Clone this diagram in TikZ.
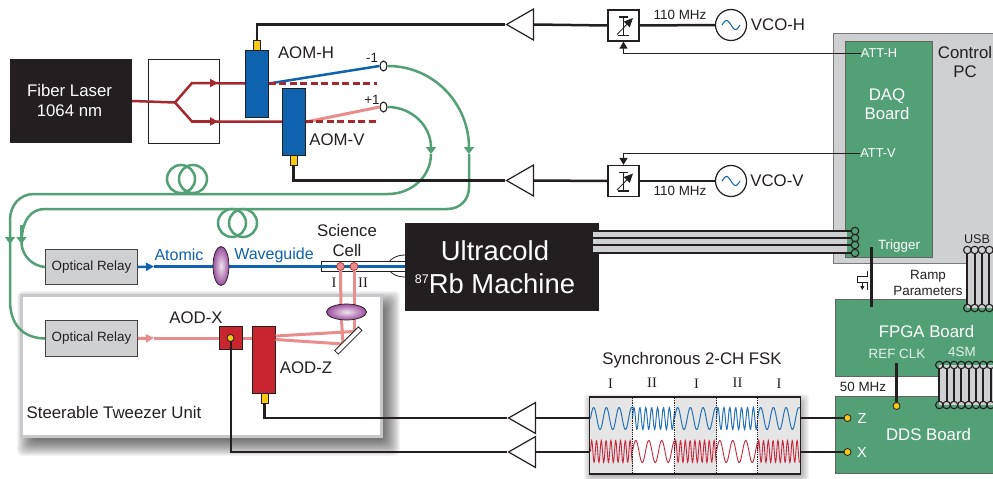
\documentclass[tikz,border=0pt]{standalone}
\usepackage{fontspec}
\setmainfont{Liberation Sans}
\newfontfamily\romfont{Liberation Serif}
\usetikzlibrary{shapes.geometric, arrows.meta}
\definecolor{ink}{HTML}{231F20}
\definecolor{bluebeam}{HTML}{0F62AE}
\definecolor{redbeam}{HTML}{A5282E}
\definecolor{pinkbeam}{HTML}{E88D8B}
\definecolor{fibergreen}{HTML}{53A077}
\definecolor{panelgray}{HTML}{CFD0D2}
\definecolor{portyellow}{HTML}{F6C915}
\definecolor{aodred}{HTML}{C9252F}
\definecolor{wavered}{HTML}{C8283C}
\definecolor{lenspurple}{HTML}{9A4F9C}

\begin{document}
\begin{tikzpicture}[x=1pt,y=-1pt,
		biglbl/.style={font=\fontsize{16.8}{19.5}\selectfont, text=ink, inner sep=0pt, align=center},
		midlbl/.style={font=\fontsize{13.4}{16}\selectfont, text=ink, inner sep=0pt, align=center},
		whitebig/.style={biglbl, text=white},
		whitemid/.style={midlbl, text=white},
		romlbl/.style={font=\romfont\fontsize{14.5}{16}\selectfont, text=ink, inner sep=0pt},
		darkbox/.style={rectangle, fill=ink, inner sep=0pt},
		aomblock/.style={rectangle, draw=ink, line width=0.8pt, fill=bluebeam, minimum width=23pt, inner sep=0pt},
		aodblock/.style={aomblock, fill=aodred},
		connector/.style={rectangle, draw=ink, line width=0.7pt, fill=portyellow, minimum width=7pt, minimum height=10pt, inner sep=0pt},
		relay/.style={rectangle, draw=ink!85, line width=0.8pt, fill=panelgray, minimum width=92pt, minimum height=35.5pt, inner sep=0pt, midlbl},
		board/.style={rectangle, draw=ink!70, line width=0.9pt, fill=fibergreen, inner sep=0pt},
		amp/.style={isosceles triangle, isosceles triangle stretches, shape border rotate=180, draw=ink, line width=1.2pt, fill=white, minimum width=31pt, minimum height=27pt, inner sep=0pt, anchor=apex},
		attbox/.style={rectangle, draw=ink, line width=1.2pt, fill=white, minimum size=31pt, inner sep=0pt},
		vco/.style={circle, draw=ink, line width=1.2pt, fill=white, minimum size=31pt, inner sep=0pt},
		aperture/.style={ellipse, draw=ink, line width=1.1pt, fill=white, minimum width=7pt, minimum height=10pt, inner sep=0pt},
		yellowdot/.style={circle, draw=ink, line width=0.8pt, fill=portyellow, minimum size=7pt, inner sep=0pt},
		ring/.style={circle, draw=ink, line width=1.1pt, minimum size=7.5pt, inner sep=0pt},
		pinkdot/.style={circle, draw=redbeam, line width=0.7pt, fill=pinkbeam, minimum size=8pt, inner sep=0pt},
		lens/.style={ellipse, draw=ink, line width=0.7pt, inner color=white!85!lenspurple, outer color=lenspurple, inner sep=0pt},
		wire/.style={draw=ink, line width=2.5pt},
		thinwire/.style={draw=ink, line width=1.2pt},
		redray/.style={draw=redbeam, line width=2.5pt},
		blueray/.style={draw=bluebeam, line width=2.5pt},
		pinkray/.style={draw=pinkbeam, line width=3pt},
		fiber/.style={draw=fibergreen, line width=2.5pt},
		fibertip/.style={-{Triangle[length=7pt,width=10pt]}},
		raytip/.style={-{Triangle[length=8pt,width=8pt]}}
	]
	\useasboundingbox (0,0) rectangle (993,479);

	\node (pc) [rectangle, draw=ink!60, line width=0.9pt, fill=panelgray, minimum width=170pt, minimum height=230pt, inner sep=0pt] at (918,148) {};
	\node (daq) [board, minimum width=87pt, minimum height=216pt] at (888.5,149) {};
	\node (pctxt) [biglbl] at (965,62) {Control\\PC};
	\node (daqtxt) [whitebig] at (887,104) {DAQ\\Board};
	\node (fpga) [board, minimum width=160pt, minimum height=77pt] at (915,337.5) {};
	\node (dds) [board, minimum width=160pt, minimum height=77pt] at (915,435) {};
	\node (fpgatxt) [whitebig] at (926.5,331) {FPGA Board};
	\node (ddstxt) [whitebig] at (928.5,434) {DDS Board};
	\node (reftxt) [whitemid, text=white!85!fibergreen] at (897,354) {REF CLK};
	\node (smtxt) [whitemid, text=white!85!fibergreen] at (962,352) {4SM};
	\node (clktxt) [midlbl] at (863,387) {50 MHz};
	\node (usbtxt) [midlbl, font=\fontsize{12.6}{15}\selectfont] at (977,239) {USB};
	\node (ramptxt) [midlbl] at (928,282.5) {Ramp\\Parameters};
	\node (trigtxt) [whitemid] at (899,246) {Trigger};
	\node (tatth) [whitemid, font=\fontsize{12.8}{15}\selectfont] at (879,53.5) {ATT-H};
	\node (tattv) [whitemid, font=\fontsize{12.8}{15}\selectfont] at (878,153.5) {ATT-V};

	\node (laser) [darkbox, minimum width=122pt, minimum height=83.5pt] at (71,101) {};
	\node (lasertxt) [whitebig] at (69.5,100.5) {Fiber Laser\\1064 nm};
	\node (split) [rectangle, draw=ink, line width=0.9pt, minimum width=71pt, minimum height=84pt] at (183.5,101) {};
	\coordinate (fork) at (175,102.5);
	\coordinate (forkh) at (192,83);
	\coordinate (forkv) at (192,121.5);
	\coordinate (tiph) at (218,83);
	\coordinate (tipv) at (218,121.5);
	\coordinate (dumph) at (377,83.5);
	\coordinate (dumpv) at (379,121.5);

	\node (aomh) [aomblock, minimum height=67pt] at (257,83.5) {};
	\node (aomv) [aomblock, minimum height=67pt] at (294,122) {};
	\node (conh) [connector] at (257,45) {};
	\node (conv) [connector] at (293.5,160.5) {};
	\node (aomhtxt) [biglbl] at (306,53) {AOM-H};
	\node (aomvtxt) [biglbl] at (337,140) {AOM-V};
	\node (outh) [aperture] at (383.5,66) {};
	\node (outv) [aperture] at (383.5,107) {};
	\node (minus) [midlbl] at (372,58) {-1};
	\node (plus) [midlbl] at (372,100) {+1};

	\draw[redray] (laser.east) -- (fork) -- (forkh) -- (aomh.west);
	\draw[redray] (fork) -- (forkv) -- (aomv.west |- forkv);
	\draw[redray, raytip] (forkh) -- (tiph);
	\draw[redray, raytip] (forkv) -- (tipv);
	\draw[blueray] (aomh.east) -- (outh.west);
	\draw[pinkray] (aomv.east) -- (outv.west);
	\draw[redray, dash pattern=on 7pt off 3.5pt] (aomh.east) -- (dumph);
	\draw[redray, dash pattern=on 7pt off 3.5pt] (aomv.east |- dumpv) -- (dumpv);

	\foreach \d in {9,8,...,-7} {
		\fill[black, opacity=0.045, rounded corners=5pt] (26-\d,300-\d) rectangle (391+\d,447+\d);
	}
	\node (unit) [rectangle, draw=panelgray!90!gray, line width=3pt, fill=white, minimum width=360pt, minimum height=140.5pt, inner sep=0pt] at (201,365.75) {};
	\node (unittxt) [biglbl] at (114,412) {Steerable Tweezer Unit};
	\node (relaya) [relay] at (91.5,267) {Optical Relay};
	\node (relayb) [relay] at (91.5,338.5) {Optical Relay};

	\coordinate (hb) at (469,154);
	\coordinate (hc) at (447,209);
	\coordinate (hd) at (45,209);
	\coordinate (he) at (21.5,244);
	\coordinate (vb) at (431,154);
	\coordinate (vc) at (388,194);
	\coordinate (vd) at (34,194);
	\coordinate (ve) at (10,244);
	\draw[fiber, fibertip] (outh.east) .. controls (435,66) and (469,105) .. (hb);
	\draw[fiber] (hb) -- (469,187) .. controls (469,200) and (460,209) .. (hc) -- (hd) .. controls (31,209) and (21.5,220) .. (he);
	\draw[fiber, fibertip] (21.5,225) -- (he);
	\draw[fiber] (he) .. controls (23,257) and (33,266) .. (relaya.west);
	\draw[fiber, fibertip] (outv.east) .. controls (412,107) and (431,126) .. (vb);
	\draw[fiber] (vb) .. controls (431,176) and (412,194) .. (vc) -- (vd) .. controls (20,194) and (10,205) .. (10,220) -- (ve);
	\draw[fiber, fibertip] (10,225) -- (ve);
	\draw[fiber] (ve) -- (10,300) .. controls (10,324) and (22,338) .. (relayb.west);

	\node (loopaa) [circle, draw=fibergreen, line width=2.5pt, minimum size=28pt, inner sep=0pt] at (181,179) {};
	\node (loopab) [circle, draw=fibergreen, line width=2.5pt, minimum size=28pt, inner sep=0pt] at (193,179) {};
	\node (loopba) [circle, draw=fibergreen, line width=2.5pt, minimum size=28pt, inner sep=0pt] at (232,223) {};
	\node (loopbb) [circle, draw=fibergreen, line width=2.5pt, minimum size=28pt, inner sep=0pt] at (243,223) {};

	\node (chamber) [ellipse, draw=ink, line width=0.8pt, minimum width=34pt, minimum height=22pt, inner sep=0pt] at (405,266) {};
	\node (cell) [rectangle, draw=ink, line width=0.8pt, fill=white, minimum width=84pt, minimum height=9.5pt, inner sep=0pt] at (363,266.5) {};
	\coordinate (tipa) at (154,266.5);
	\coordinate (macha) at (405,266.5);
	\draw[blueray, raytip, line width=2.5pt] (relaya.east) -- (tipa);
	\draw[blueray] (tipa) -- (macha);
	\node (lensa) [lens, minimum width=16pt, minimum height=39pt] at (221,266) {};
	\node (atomtxt) [biglbl, text=bluebeam, font=\fontsize{16}{19}\selectfont] at (179,255) {Atomic};
	\node (wavetxt) [biglbl, text=bluebeam, font=\fontsize{16}{19}\selectfont] at (274,255) {Waveguide};
	\node (celltxt) [biglbl] at (347,240.5) {Science\\Cell};
	\node (trapa) [pinkdot] at (340.5,266.5) {};
	\node (trapb) [pinkdot] at (354,266.5) {};
	\node (trapatxt) [romlbl] at (334,282.5) {I};
	\node (trapbtxt) [romlbl] at (363,282.5) {II};

	\node (machine) [darkbox, minimum width=194pt, minimum height=88pt] at (501.5,267) {};
	\node (machatxt) [whitebig, font=\fontsize{27.4}{32}\selectfont] at (495,251) {Ultracold};
	\node (machbtxt) [whitebig, font=\fontsize{27.4}{32}\selectfont] at (495,284) {\raisebox{10pt}{\fontsize{12.5}{14}\selectfont 87}Rb Machine};

	\node (aodz) [aodblock, minimum height=67pt] at (264,360) {};
	\node (aodx) [aodblock, minimum height=23pt] at (231,338) {};
	\node (conz) [connector] at (264.5,398) {};
	\node (aodxtxt) [biglbl] at (196,318) {AOD-X};
	\node (aodztxt) [biglbl] at (306,368) {AOD-Z};
	\coordinate (tipb) at (154,338);
	\coordinate (mirra) at (343,344);
	\coordinate (mirrb) at (354,331.5);
	\coordinate (fana) at (275.5,336);
	\coordinate (fanb) at (275.5,339.5);
	\draw[pinkray, raytip] (relayb.east) -- (tipb);
	\draw[pinkray] (tipb) -- (aodx.west);
	\draw[pinkray] (aodx.east) -- (aodz.west |- aodx.east);
	\draw[pinkray] (fana) -- (mirrb);
	\draw[pinkray] (fanb) -- (mirra);
	\draw[pinkray] (trapa.south) -- (341,312) -- (mirra);
	\draw[pinkray] (trapb.south) -- (mirrb);
	\node (lensb) [lens, minimum width=40pt, minimum height=16pt] at (346.5,312) {};
	\node (mirror) [rectangle, draw=ink, line width=0.8pt, fill=white, minimum width=33.5pt, minimum height=5pt, inner sep=0pt, rotate=45] at (348.3,340.5) {};

	\node (amph) [amp] at (505,24.5) {};
	\node (ampv) [amp] at (505,180.5) {};
	\node (ampz) [amp] at (507,418) {};
	\node (ampx) [amp] at (507,452) {};
	\node (atth) [attbox] at (623.5,25.5) {};
	\node (attv) [attbox] at (623.5,181) {};
	\node (vcoh) [vco] at (731,25) {};
	\node (vcov) [vco] at (731,181) {};
	\node (vcohtxt) [biglbl] at (778,24.5) {VCO-H};
	\node (vcovtxt) [biglbl] at (777,180.5) {VCO-V};
	\node (freqh) [midlbl] at (680,15) {110 MHz};
	\node (freqv) [midlbl] at (680,191) {110 MHz};
	\foreach \n in {atth,attv} {
		\draw[ink, line width=1.1pt] ([shift={(-4.5pt,8.5pt)}]\n.center) -- ([shift={(4.5pt,8.5pt)}]\n.center);
		\draw[ink, line width=1.1pt] ([shift={(-5.5pt,-10pt)}]\n.center) -- ([shift={(5.5pt,-10pt)}]\n.center);
		\draw[ink, line width=1.1pt] ([yshift=8.5pt]\n.center) -- ([yshift=-10pt]\n.center);
		\draw[ink, line width=0.8pt, -{Triangle[length=9pt,width=8pt]}] ([shift={(-6.5pt,-9pt)}]\n.center) -- ([shift={(9.5pt,7.5pt)}]\n.center);
	}
	\foreach \n in {vcoh,vcov} {
		\draw[bluebeam, line width=1pt, shift={(\n.center)}] plot[domain=-9:9, samples=40] (\x,{4.5*sin(20*\x)});
	}
	\draw[wire] (conh.north) |- (amph.apex);
	\draw[wire] (conv.south) |- (ampv.apex);
	\draw[wire] (amph.lower side) -- (atth.west);
	\draw[wire] (ampv.lower side) -- (attv.west);
	\draw[wire] (atth.east) -- (vcoh.west);
	\draw[wire] (attv.east) -- (vcov.west);
	\draw[thinwire, -{Triangle[length=7pt,width=8pt]}] (tatth.west) -| (atth.south);
	\draw[thinwire, -{Triangle[length=7pt,width=8pt]}] (tattv.west) -| (attv.north);
	\draw[wire] (conz.south) |- (ampz.apex);
	\draw[wire] (aodx.center) |- (ampx.apex);
	\node (dotx) [yellowdot] at (230.5,338) {};

	\fill[panelgray] (593,231) rectangle (847,253);
	\foreach \y in {231,238,245,253} {
		\coordinate (busl\y) at (593,\y);
		\node (busr\y) [ring] at (855,\y) {};
		\draw[ink, line width=2pt] (busl\y) -- (busr\y.west);
	}
	\fill[panelgray] (967,250) rectangle (993,308);
	\foreach \x [count=\i] in {967.3,974.7,982,989.3} {
		\node (usba\i) [ring] at (\x,250) {};
		\node (usbb\i) [ring] at (\x,308) {};
		\draw[ink, line width=2pt] (usba\i.south) -- (usbb\i.north);
	}
	\fill[panelgray] (939,365) rectangle (993,405);
	\foreach \x [count=\i] in {939.3,946.6,954,961.3,968.6,976,983.3,990.6} {
		\node (sma\i) [ring] at (\x,365) {};
		\node (smb\i) [ring] at (\x,405) {};
		\draw[ink, line width=2pt] (sma\i.south) -- (smb\i.north);
	}

	\coordinate (trigtop) at (871,247);
	\coordinate (trigend) at (871,307);
	\draw[ink, line width=3pt] (trigtop) -- (trigend);
	\draw[ink, line width=0.9pt] (867,271) -- (867,276) -- (857.3,276) -- (857.3,282.7) -- (867,282.7) -- (867,290);
	\draw[ink, line width=0.9pt, -{Triangle[length=4pt,width=4pt]}] (862.3,283) -- (862.3,290);

	\foreach \d in {8,7,...,-2} {
		\fill[black, opacity=0.04, rounded corners=3pt] (592-\d,402-\d) rectangle (801+\d,475+\d);
	}
	\node (fsk) [rectangle, fill=white, inner sep=0pt, minimum width=211pt, minimum height=77pt] at (694.75,435.5) {};
	\foreach \xa/\xb in {590/632.5,674.5/716.5,757.5/800} {
		\fill[black!10] (\xa,398) rectangle (\xb,473);
	}
	\foreach \xa/\xb/\pa/\pb in {590.5/632.5/12.7/4.8,632.5/674.5/5.9/13,674.5/716.5/12.7/4.8,716.5/757.5/5.9/13,757.5/799.5/12.7/4.8} {
		\draw[bluebeam!90!white, line width=1pt] plot[domain=\xa:\xb, samples=90] (\x,{418.5-11*sin(360*(\x-\xa)/\pa)});
		\draw[wavered, line width=0.9pt] plot[domain=\xa:\xb, samples=110] (\x,{451.5-11*sin(360*(\x-\xa)/\pb)});
	}
	\foreach \x in {632.5,674.5,716.5,757.5} {
		\draw[ink, line width=0.8pt, densely dotted] (\x,398) -- (\x,473);
	}
	\node (fskframe) [rectangle, draw=ink, line width=1.3pt, inner sep=0pt, minimum width=211pt, minimum height=77pt] at (694.75,435.5) {};
	\node (fsktxt) [biglbl] at (692,360) {Synchronous 2-CH FSK};
	\node (seqa) [romlbl] at (610.5,384) {I};
	\node (seqb) [romlbl] at (652,383) {II};
	\node (seqc) [romlbl] at (696.5,384) {I};
	\node (seqd) [romlbl] at (737.5,383) {II};
	\node (seqe) [romlbl] at (779,384) {I};

	\node (portz) [yellowdot] at (847.5,418) {};
	\node (portx) [yellowdot] at (847.5,452) {};
	\node (portc) [yellowdot] at (896.5,406) {};
	\node (portztxt) [whitebig, font=\fontsize{14.5}{16}\selectfont] at (862,418.5) {Z};
	\node (portxtxt) [whitebig, font=\fontsize{14.5}{16}\selectfont] at (862,452.5) {X};
	\coordinate (clktop) at (896.5,363);
	\coordinate (fskz) at (fskframe.east |- portz);
	\coordinate (fskx) at (fskframe.east |- portx);
	\coordinate (fskzl) at (fskframe.west |- portz);
	\coordinate (fskxl) at (fskframe.west |- portx);
	\path[wire]
		(clktop) edge (portc.north)
		(fskz) edge (portz.west)
		(fskx) edge (portx.west)
		(ampz.lower side) edge (fskzl)
		(ampx.lower side) edge (fskxl);
\end{tikzpicture}
\end{document}
